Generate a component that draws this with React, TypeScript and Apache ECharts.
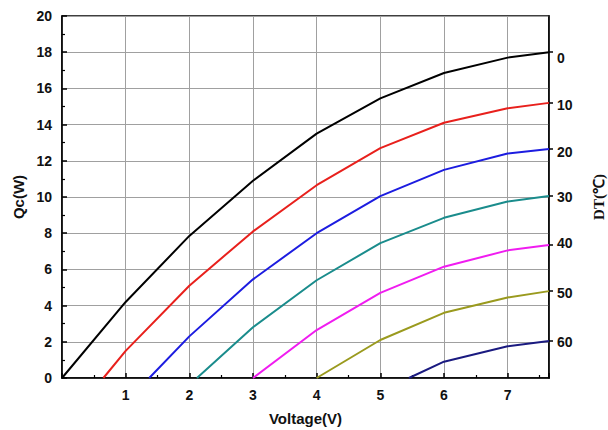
import React, { useEffect, useRef } from "react";
import * as echarts from "echarts";

const dtNames = ["0", "10", "20", "30", "40", "50", "60"];
const colors = ["#000000", "#e8201c", "#1c1ce0", "#1a8c8c", "#f01cf0", "#9a9a1e", "#1a1a80"];

const s0: number[][] = [[0, 0], [1, 4.2], [2, 7.85], [3, 10.9], [4, 13.5], [5, 15.45], [6, 16.85], [7, 17.7], [7.65, 18.0]];
const s10: number[][] = [[0.65, 0], [1, 1.5], [2, 5.1], [3, 8.1], [4, 10.65], [5, 12.7], [6, 14.1], [7, 14.9], [7.65, 15.2]];
const s20: number[][] = [[1.37, 0], [2, 2.3], [3, 5.45], [4, 8.0], [5, 10.05], [6, 11.5], [7, 12.4], [7.65, 12.65]];
const s30: number[][] = [[2.12, 0], [3, 2.8], [4, 5.4], [5, 7.45], [6, 8.85], [7, 9.75], [7.65, 10.05]];
const s40: number[][] = [[3, 0], [4, 2.65], [5, 4.7], [6, 6.15], [7, 7.05], [7.65, 7.35]];
const s50: number[][] = [[4, 0], [5, 2.1], [6, 3.6], [7, 4.45], [7.65, 4.8]];
const s60: number[][] = [[5.45, 0], [6, 0.9], [7, 1.75], [7.65, 2.05]];
const seriesData = [s0, s10, s20, s30, s40, s50, s60];

// right-axis label positions (Qc values where DT labels sit)
const dtLabelQ = [17.7, 15.1, 12.5, 10.0, 7.45, 4.7, 2.0];
const dtTickQ = [18.0, 15.2, 12.65, 10.05, 7.35, 4.8, 2.05];

const xTicks = [0, 1, 2, 3, 4, 5, 6, 7];

export default function App() {
  const ref = useRef<HTMLDivElement>(null);
  useEffect(() => {
    if (!ref.current) return;
    const chart = echarts.init(ref.current, undefined, { renderer: "svg" });
    const font = "Liberation Sans, Arial, sans-serif";
    chart.setOption({
      animation: false,
      grid: {
        left: 62, right: 59, top: 16, bottom: 52,
        show: true, borderColor: "#000", borderWidth: 1.5,
        containLabel: false, outerBoundsMode: "none",
      },
      xAxis: {
        type: "value",
        min: 0,
        max: 7.65,
        interval: 1,
        name: "Voltage(V)",
        nameLocation: "middle",
        nameGap: 33,
        nameTextStyle: { fontFamily: font, fontWeight: "bold", fontSize: 15, color: "#111" },
        axisLine: { show: true, lineStyle: { color: "#000", width: 1.5 } },
        axisTick: { show: true, inside: true, length: 5, lineStyle: { color: "#000", width: 1.5 } },
        minorTick: { show: true, splitNumber: 2, length: 3, lineStyle: { color: "#000", width: 1.2 } },
        axisLabel: {
          fontFamily: font, fontWeight: "bold", fontSize: 14, color: "#111", margin: 10,
          formatter: (v: number) => (v === 0 || !xTicks.includes(v) ? "" : String(v)),
        },
        splitLine: { show: true, lineStyle: { color: "#a0a0a0", width: 1 } },
      },
      yAxis: [
        {
          type: "value",
          min: 0,
          max: 20,
          interval: 2,
          name: "Qc(W)",
          nameLocation: "middle",
          nameGap: 34,
          nameTextStyle: { fontFamily: font, fontWeight: "bold", fontSize: 15, color: "#111" },
          axisLine: { show: true, lineStyle: { color: "#000", width: 1.5 } },
          axisTick: { show: true, inside: true, length: 5, lineStyle: { color: "#000", width: 1.5 } },
          minorTick: { show: true, splitNumber: 2, length: 3, lineStyle: { color: "#000", width: 1.2 } },
          axisLabel: { fontFamily: font, fontWeight: "bold", fontSize: 14, color: "#111", margin: 10 },
          splitLine: { show: true, lineStyle: { color: "#a0a0a0", width: 1 } },
        },
        {
          type: "value",
          position: "right",
          min: 0,
          max: 20,
          name: "DT(℃)",
          nameLocation: "middle",
          nameGap: 42,
          nameTextStyle: { fontFamily: "Liberation Serif, Times New Roman, serif", fontWeight: "bold", fontSize: 15, color: "#111" },
          axisLine: { show: true, lineStyle: { color: "#000", width: 1.5 } },
          axisTick: { show: true, inside: false, length: 4, customValues: dtTickQ, lineStyle: { color: "#000", width: 1.5 } },
          axisLabel: {
            fontFamily: font, fontWeight: "bold", fontSize: 14, color: "#111", margin: 8,
            customValues: dtLabelQ,
            formatter: (v: number) => {
              const i = dtLabelQ.indexOf(v);
              return i >= 0 ? dtNames[i] : "";
            },
          },
          splitLine: { show: false },
        },
      ],
      series: seriesData.map((d, i) => ({
        type: "line",
        name: dtNames[i],
        data: d,
        showSymbol: false,
        symbol: "none",
        smooth: false,
        lineStyle: { color: colors[i], width: 2 },
        itemStyle: { color: colors[i] },
      })),
    });
    return () => chart.dispose();
  }, []);
  return <div ref={ref} style={{ width: 608, height: 430, position: "absolute", left: 0, top: 0 }} />;
}
